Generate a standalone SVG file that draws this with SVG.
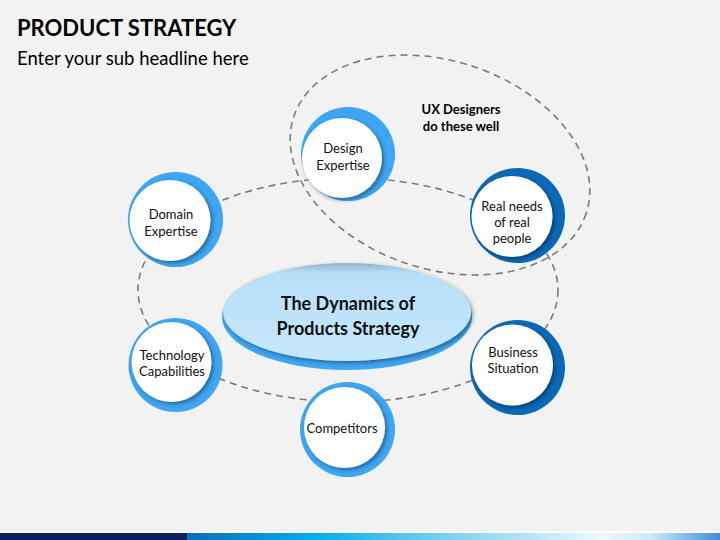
<svg xmlns="http://www.w3.org/2000/svg" width="720" height="540" viewBox="0 0 720 540">
<defs>
<style>
.dash{fill:none;stroke:#7a7a7a;stroke-width:1.6;stroke-dasharray:7 5}
.ringL{fill:#3ea6f3}
.ringD{fill:#0b69b8}
.face{fill:#ffffff;filter:url(#sh)}
.lbl{font-family:Lato,"Liberation Sans",sans-serif;font-size:13px;fill:#111;text-anchor:middle}
.ctr{font-family:Lato,"Liberation Sans",sans-serif;font-size:18px;font-weight:bold;fill:#111;text-anchor:middle}
</style>
<filter id="sh" x="-30%" y="-30%" width="160%" height="160%">
<feDropShadow dx="2" dy="2" stdDeviation="2" flood-color="#000" flood-opacity="0.4"/>
</filter>
<linearGradient id="ctrG" x1="0" y1="0" x2="0" y2="1">
<stop offset="0" stop-color="#8fb3cb"/>
<stop offset="0.1" stop-color="#b9dff7"/>
<stop offset="1" stop-color="#c6e8fd"/>
</linearGradient>
<linearGradient id="barG" x1="187" y1="0" x2="720" y2="0" gradientUnits="userSpaceOnUse">
<stop offset="0" stop-color="#0a6dbf"/>
<stop offset="0.24" stop-color="#00aeef"/>
<stop offset="0.42" stop-color="#5cc8f0"/>
<stop offset="0.6" stop-color="#a9def5"/>
<stop offset="0.78" stop-color="#eef8fc"/>
<stop offset="0.87" stop-color="#cdeaf8"/>
<stop offset="1" stop-color="#3b8edc"/>
</linearGradient>
</defs>
<rect x="0" y="0" width="720" height="540" fill="#f2f2f2"/>
<text x="17" y="36" font-family="Lato,'Liberation Sans',sans-serif" font-size="22" font-weight="bold" fill="#000">PRODUCT STRATEGY</text>
<text x="17" y="65" font-family="Lato,'Liberation Sans',sans-serif" font-size="18.5" fill="#000">Enter your sub headline here</text>

<g id="connectors">
<ellipse class="dash" cx="348" cy="290" rx="210" ry="112"/>
<ellipse class="dash" cx="440" cy="165" rx="154" ry="104" transform="rotate(18.3 440 165)"/>
</g>

<text x="461" y="114" font-family="Lato,'Liberation Sans',sans-serif" font-size="13" font-weight="bold" fill="#000" text-anchor="middle">UX Designers</text>
<text x="461" y="131" font-family="Lato,'Liberation Sans',sans-serif" font-size="13" font-weight="bold" fill="#000" text-anchor="middle">do these well</text>

<g id="center">
<ellipse cx="347" cy="317" rx="125" ry="53" fill="#3ea6f3"/>
<ellipse cx="347" cy="312" rx="124" ry="49" fill="url(#ctrG)" filter="url(#sh)"/>
<text class="ctr" x="348" y="310">The Dynamics of</text>
<text class="ctr" x="348" y="335">Products Strategy</text>
</g>

<g id="design">
<circle class="ringL" cx="348" cy="154" r="47"/>
<circle class="face" cx="342" cy="158" r="40"/>
<text class="lbl" x="343" y="153">Design</text>
<text class="lbl" x="343" y="170">Expertise</text>
</g>

<g id="domain">
<circle class="ringL" cx="175.5" cy="219.5" r="47.5"/>
<circle class="face" cx="170" cy="220.5" r="40.5"/>
<text class="lbl" x="171" y="219">Domain</text>
<text class="lbl" x="171" y="236">Expertise</text>
</g>

<g id="realneeds">
<circle class="ringD" cx="517.5" cy="215.5" r="47.5"/>
<circle class="face" cx="512" cy="216.5" r="40.5"/>
<text class="lbl" x="512" y="211">Real needs</text>
<text class="lbl" x="512" y="227">of real</text>
<text class="lbl" x="512" y="243">people</text>
</g>

<g id="technology">
<circle class="ringL" cx="175.5" cy="365" r="47"/>
<circle class="face" cx="171.5" cy="362" r="40"/>
<text class="lbl" x="172" y="360">Technology</text>
<text class="lbl" x="172" y="376">Capabilities</text>
</g>

<g id="competitors">
<circle class="ringL" cx="347.5" cy="429.5" r="47.5"/>
<circle class="face" cx="344.5" cy="427.5" r="40.5"/>
<text class="lbl" x="342" y="433">Competitors</text>
</g>

<g id="business">
<circle class="ringD" cx="517.5" cy="367.5" r="47.5"/>
<circle class="face" cx="512.5" cy="365" r="40.5"/>
<text class="lbl" x="513" y="357">Business</text>
<text class="lbl" x="513" y="373">Situation</text>
</g>

<rect x="0" y="531" width="720" height="2" fill="#ffffff"/>
<rect x="0" y="533" width="187" height="7" fill="#0c2260"/>
<rect x="187" y="533" width="533" height="7" fill="url(#barG)"/>
</svg>
